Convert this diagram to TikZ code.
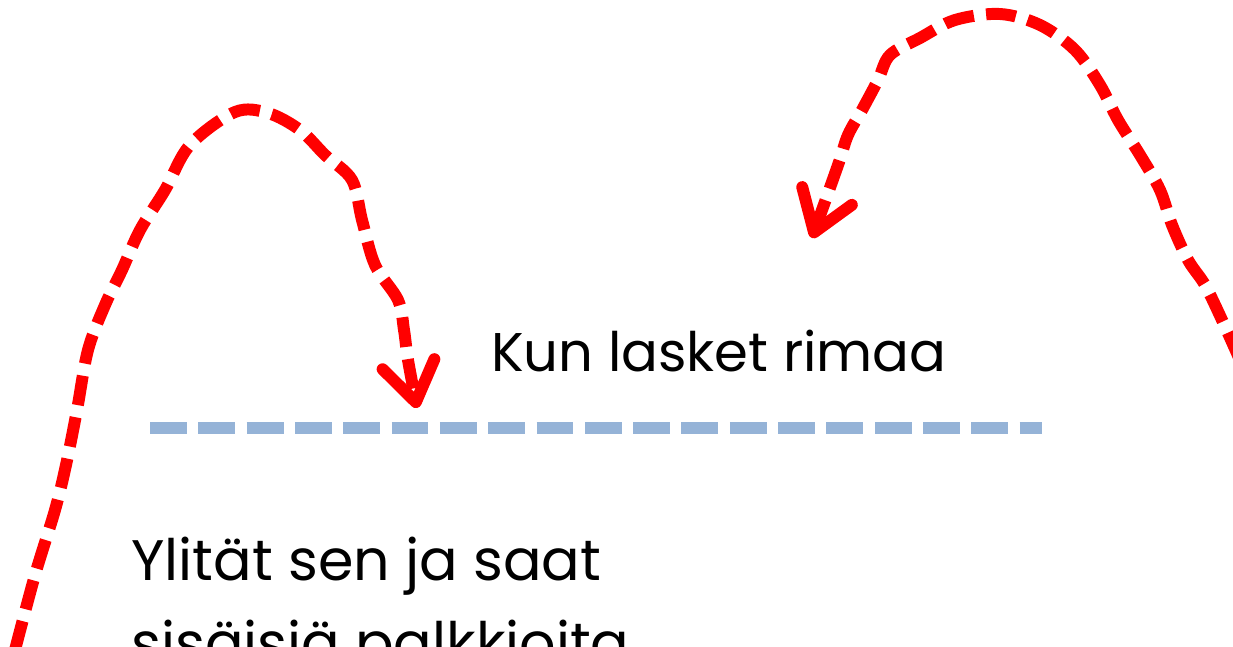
\documentclass[tikz,border=0pt]{standalone}
\usepackage{fontspec}
\setmainfont{Poppins}
\usetikzlibrary{arrows.meta}
\definecolor{myred}{HTML}{FF0000}
\definecolor{myblue}{HTML}{95B3D7}

\begin{document}
\begin{tikzpicture}[x=0.02cm, y=-0.02cm,
                    jump/.style={draw=myred, line width=6.8pt, dash pattern=on 17pt off 7pt,
                                 -{Straight Barb[length=22pt, width=30pt, round]}},
                    bar/.style={draw=myblue, line width=6.8pt, dash pattern=on 21pt off 6.5pt},
                    label/.style={anchor=base west, inner sep=0pt, align=left}]
\useasboundingbox (0,0) rectangle (1233,646);
\node[label, font=\fontsize{31}{44}\selectfont] (bar text) at (491,371) {Kun lasket rimaa};
\node[label, font=\fontsize{32.5}{47}\selectfont] (gain text) at (131,663) {Ylität sen ja saat\\sisäisiä palkkioita};
\coordinate (bar start) at (150,428);
\coordinate (bar end) at (1042,428);
\draw[bar] (bar start) -- (bar end);
% hyppy riman yli
\coordinate (left start) at (15,650);
\coordinate (left end) at (417,408);
\draw[jump] plot[smooth, tension=0.55] coordinates {(left start) (35,575) (55,510) (66,465) (77,410) (88,350)
    (105,305) (122,270) (140,230) (165,190) (190,145) (235,112) (268,113) (300,130) (325,155) (352,180)
    (362,220) (375,265) (398,300) (404,330) (408,360) (left end)};
% hyppy takaisin
\coordinate (right start) at (1240,360);
\coordinate (right end) at (812,238);
\draw[jump] plot[smooth, tension=0.55] coordinates {(right start) (1222,320) (1205,285) (1188,260) (1172,225)
    (1160,190) (1140,155) (1118,120) (1100,85) (1075,50) (1040,25) (1000,14) (955,20) (920,38) (890,55)
    (878,80) (862,110) (848,135) (838,165) (right end)};
\end{tikzpicture}
\end{document}
